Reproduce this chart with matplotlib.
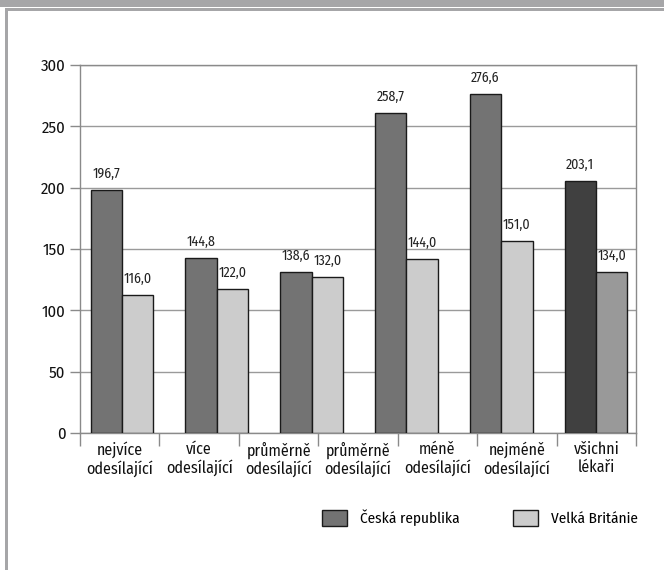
import matplotlib
matplotlib.use("Agg")
import matplotlib.pyplot as plt
from matplotlib.patches import Rectangle, Patch
from matplotlib import font_manager as fm

names = {f.name for f in fm.fontManager.ttflist}
FONT = "Fira Sans Condensed" if "Fira Sans Condensed" in names else "DejaVu Sans"
plt.rcParams["font.family"] = [FONT, "DejaVu Sans"]

# ---- data ----
categories = ["nejvíce\nodesílající", "více\nodesílající", "průměrně\nodesílající",
              "průměrně\nodesílající", "méně\nodesílající", "nejméně\nodesílající",
              "všichni\nlékaři"]
series_names = ["Česká republika", "Velká Británie"]
cz_heights = [198.4, 142.9, 131.5, 260.6, 276.4, 205.2]
uk_heights = [112.8, 117.4, 127.2, 142.1, 156.3, 131.5]
cz_values = [196.7, 144.8, 138.6, 258.7, 276.6, 203.1]
uk_values = [116.0, 122.0, 132.0, 144.0, 151.0, 134.0]
yticks = [0, 50, 100, 150, 200, 250, 300]

W, H = 664, 570
fig = plt.figure(figsize=(W / 100, H / 100), dpi=100)

# frame decoration
fig.patches.append(Rectangle((0, 1 - 7 / H), 1, 7 / H, transform=fig.transFigure,
                             facecolor="#a6a6a8", edgecolor="none"))
fig.patches.append(Rectangle((5 / W, 1 - 11 / H), 1, 2.5 / H, transform=fig.transFigure,
                             facecolor="#a6a6a8", edgecolor="none"))
fig.patches.append(Rectangle((5 / W, 0), 2.5 / W, 1 - 8.5 / H, transform=fig.transFigure,
                             facecolor="#a6a6a8", edgecolor="none"))

ax = fig.add_axes([80 / W, 1 - 433 / H, 556 / W, 368 / H])
n = len(cz_heights)
xs = list(range(n))
bw = 0.332
cz_colors = ["#737373"] * (n - 1) + ["#404040"]
uk_colors = ["#cccccc"] * (n - 1) + ["#999999"]
ax.bar([x - bw / 2 for x in xs], cz_heights, width=bw, color=cz_colors,
       edgecolor="#1a1a1a", linewidth=1, zorder=3)
ax.bar([x + bw / 2 for x in xs], uk_heights, width=bw, color=uk_colors,
       edgecolor="#1a1a1a", linewidth=1, zorder=3)

def fmt(v):
    return f"{v:.1f}".replace(".", ",")

for x, h, v in zip(xs, cz_heights, cz_values):
    ax.annotate(fmt(v), (x - bw / 2, h), xytext=(0, 6.5), textcoords="offset points",
                ha="center", va="bottom", fontsize=10, color="#222222")
for x, h, v in zip(xs, uk_heights, uk_values):
    ax.annotate(fmt(v), (x + bw / 2, h), xytext=(0, 6.5), textcoords="offset points",
                ha="center", va="bottom", fontsize=10, color="#222222")

x0, x1 = -0.443, 5.422
ax.set_xlim(x0, x1)
ax.set_ylim(0, 300)
ax.set_yticks(yticks)
ax.set_yticklabels([str(t) for t in yticks], fontsize=12, color="#111111")
ax.yaxis.grid(True, color="#9a9a9a", linewidth=1, zorder=0)
ax.set_axisbelow(True)

nc = len(categories)
slot = (x1 - x0) / nc
ax.set_xticks([x0 + k * slot for k in range(nc + 1)])
ax.set_xticklabels([""] * (nc + 1))
ax.set_xticks([x0 + (k + 0.5) * slot for k in range(nc)], minor=True)
ax.set_xticklabels(categories, minor=True, fontsize=11.5, linespacing=1.15,
                   color="#111111")
ax.tick_params(axis="x", which="major", length=9.5, color="#8a8a8a", width=1)
ax.tick_params(axis="x", which="minor", length=0, pad=6)
ax.tick_params(axis="y", length=7.5, color="#8a8a8a", width=1, pad=3)

for s in ax.spines.values():
    s.set_color("#8a8a8a")
    s.set_linewidth(1)

handles = [Patch(facecolor="#737373", edgecolor="#1a1a1a", linewidth=1),
           Patch(facecolor="#cccccc", edgecolor="#1a1a1a", linewidth=1)]
fig.legend(handles, series_names, loc="center right",
           bbox_to_anchor=(638 / W, 1 - 518 / H), ncol=2, frameon=False,
           prop={"size": 11}, handlelength=1.65, handleheight=1.25,
           handletextpad=0.85, columnspacing=3.5, borderpad=0, borderaxespad=0)

fig.savefig("out.png", dpi=100)
